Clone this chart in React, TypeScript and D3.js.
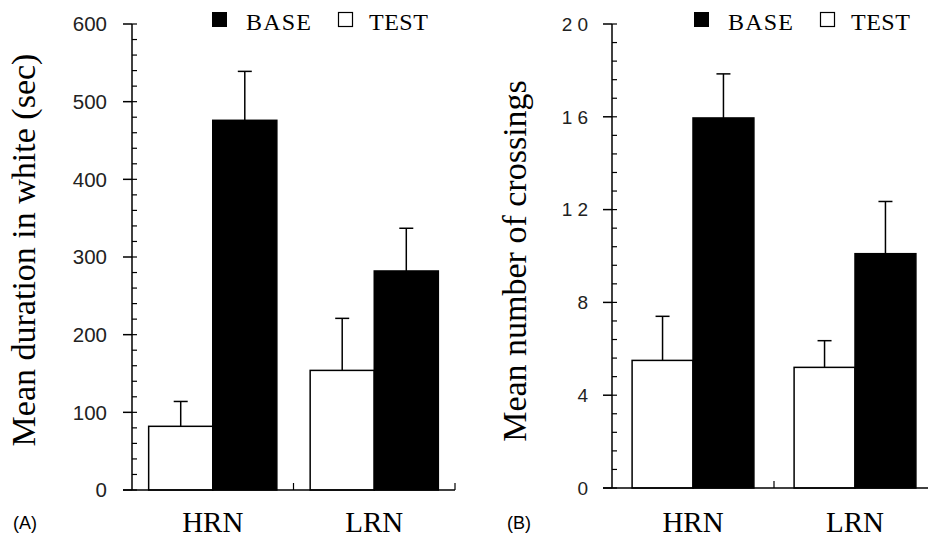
import React, { useEffect, useRef } from 'react';
import * as d3 from 'd3';

// categories and series
const categories = ['HRN', 'LRN'];
const groups = ['TEST', 'BASE'];

// panel A: mean duration in white (sec)
const durationTest = [82, 154];
const durationTestErr = [32, 67];
const durationBase = [476, 282];
const durationBaseErr = [63, 55];

// panel B: mean number of crossings
const crossTest = [5.5, 5.2];
const crossTestErr = [1.9, 1.15];
const crossBase = [15.95, 10.1];
const crossBaseErr = [1.9, 2.25];

const durationTicks = [0, 100, 200, 300, 400, 500, 600];
const crossTicks = [0, 4, 8, 12, 16, 20];

const serif = '"Liberation Serif", "Times New Roman", serif';
const sans = '"Liberation Sans", Arial, sans-serif';

const panels = [
  {
    key: 'A',
    letter: '(A)',
    title: 'Mean duration in white (sec)',
    ticks: durationTicks,
    minorStep: 20,
    test: durationTest,
    testErr: durationTestErr,
    base: durationBase,
    baseErr: durationBaseErr,
    x0: 132, x1: 455, yTop: 24, yBottom: 490,
    outer: 0.26,
    tickSize: 20.5, tickSpacing: 0, tickDx: -25,
    titleX: 35, titleY: 250,
    legendX: 212,
    letterX: 13,
  },
  {
    key: 'B',
    letter: '(B)',
    title: 'Mean number of crossings',
    ticks: crossTicks,
    minorStep: 0.8,
    test: crossTest,
    testErr: crossTestErr,
    base: crossBase,
    baseErr: crossBaseErr,
    x0: 612, x1: 936, yTop: 24, yBottom: 488,
    outer: 0.33,
    tickSize: 19, tickSpacing: 5, tickDx: -19,
    titleX: 526, titleY: 261,
    legendX: 694,
    letterX: 507,
  },
];

export default function App() {
  const svgRef = useRef<SVGSVGElement | null>(null);

  useEffect(() => {
    if (!svgRef.current) return;
    const svg = d3.select(svgRef.current);
    svg.selectAll('*').remove();

    panels.forEach((p) => {
      const g = svg.append('g');
      const domainMax = p.ticks[p.ticks.length - 1];

      const y = d3.scaleLinear().domain([0, domainMax]).range([p.yBottom, p.yTop]);
      const x = d3.scaleBand().domain(categories).range([p.x0, p.x1]).padding(0);
      const xInner = d3.scaleBand().domain(groups)
        .range([0, x.bandwidth()]).paddingInner(0).paddingOuter(p.outer);

      // bars
      const rows = categories.flatMap((c, i) => [
        { cat: c, grp: 'TEST', v: p.test[i], e: p.testErr[i] },
        { cat: c, grp: 'BASE', v: p.base[i], e: p.baseErr[i] },
      ]);

      // error bars (drawn first, bar covers the lower part)
      rows.forEach((d) => {
        const cx = (x(d.cat) as number) + (xInner(d.grp) as number) + xInner.bandwidth() / 2;
        g.append('line')
          .attr('x1', cx).attr('x2', cx)
          .attr('y1', y(d.v)).attr('y2', y(d.v + d.e))
          .attr('stroke', '#000').attr('stroke-width', 1.5);
        g.append('line')
          .attr('x1', cx - 7).attr('x2', cx + 7)
          .attr('y1', y(d.v + d.e)).attr('y2', y(d.v + d.e))
          .attr('stroke', '#000').attr('stroke-width', 1.5);
      });

      g.selectAll('rect.bar')
        .data(rows)
        .join('rect')
        .attr('class', 'bar')
        .attr('x', (d) => (x(d.cat) as number) + (xInner(d.grp) as number))
        .attr('y', (d) => y(d.v))
        .attr('width', xInner.bandwidth())
        .attr('height', (d) => y(0) - y(d.v))
        .attr('fill', (d) => (d.grp === 'BASE' ? '#000' : '#fff'))
        .attr('stroke', '#000')
        .attr('stroke-width', 1.5);

      // y axis
      g.append('line')
        .attr('x1', p.x0).attr('x2', p.x0)
        .attr('y1', p.yTop).attr('y2', p.yBottom)
        .attr('stroke', '#000').attr('stroke-width', 1.5);

      const minor = d3.range(0, domainMax + p.minorStep / 2, p.minorStep);
      minor.forEach((v) => {
        g.append('line')
          .attr('x1', p.x0).attr('x2', p.x0 + 5)
          .attr('y1', y(v)).attr('y2', y(v))
          .attr('stroke', '#000').attr('stroke-width', 1.2);
      });
      p.ticks.forEach((v) => {
        g.append('line')
          .attr('x1', p.x0 - 9).attr('x2', p.x0)
          .attr('y1', y(v)).attr('y2', y(v))
          .attr('stroke', '#000').attr('stroke-width', 1.5);
        g.append('text')
          .attr('x', p.x0 + p.tickDx)
          .attr('y', y(v))
          .attr('dy', '0.36em')
          .attr('text-anchor', 'end')
          .attr('font-family', sans)
          .attr('font-size', p.tickSize)
          .attr('letter-spacing', p.tickSpacing)
          .attr('fill', '#222')
          .text(String(v));
      });

      // x axis
      g.append('line')
        .attr('x1', p.x0 - 9).attr('x2', p.x1)
        .attr('y1', p.yBottom).attr('y2', p.yBottom)
        .attr('stroke', '#000').attr('stroke-width', 1.5);
      categories.forEach((c) => {
        const edge = (x(c) as number) + x.bandwidth();
        g.append('line')
          .attr('x1', edge).attr('x2', edge)
          .attr('y1', p.yBottom).attr('y2', p.yBottom - 7)
          .attr('stroke', '#000').attr('stroke-width', 1.2);
        g.append('text')
          .attr('x', (x(c) as number) + x.bandwidth() / 2)
          .attr('y', 532)
          .attr('text-anchor', 'middle')
          .attr('font-family', serif)
          .attr('font-size', 29)
          .attr('fill', '#000')
          .text(c);
      });

      // axis title
      g.append('text')
        .attr('transform', `translate(${p.titleX},${p.titleY}) rotate(-90)`)
        .attr('text-anchor', 'middle')
        .attr('font-family', serif)
        .attr('font-size', 34)
        .attr('fill', '#000')
        .text(p.title);

      // legend
      const lg = g.append('g').attr('transform', `translate(${p.legendX},12)`);
      lg.append('rect').attr('x', 0).attr('y', 0).attr('width', 15).attr('height', 15).attr('fill', '#000');
      lg.append('text').attr('x', 34).attr('y', 18)
        .attr('font-family', serif).attr('font-size', 24).attr('letter-spacing', 1.2)
        .text('BASE');
      lg.append('rect').attr('x', 126.5).attr('y', 0.5).attr('width', 14).attr('height', 14)
        .attr('fill', '#fff').attr('stroke', '#000').attr('stroke-width', 1.2);
      lg.append('text').attr('x', 157).attr('y', 18)
        .attr('font-family', serif).attr('font-size', 24).attr('letter-spacing', 0.5)
        .text('TEST');

      // panel letter
      g.append('text')
        .attr('x', p.letterX).attr('y', 529)
        .attr('font-family', sans).attr('font-size', 18)
        .text(p.letter);
    });
  }, []);

  return (
    <svg
      ref={svgRef}
      width={928}
      height={539}
      style={{ position: 'absolute', left: 0, top: 0, background: '#fff' }}
    />
  );
}
